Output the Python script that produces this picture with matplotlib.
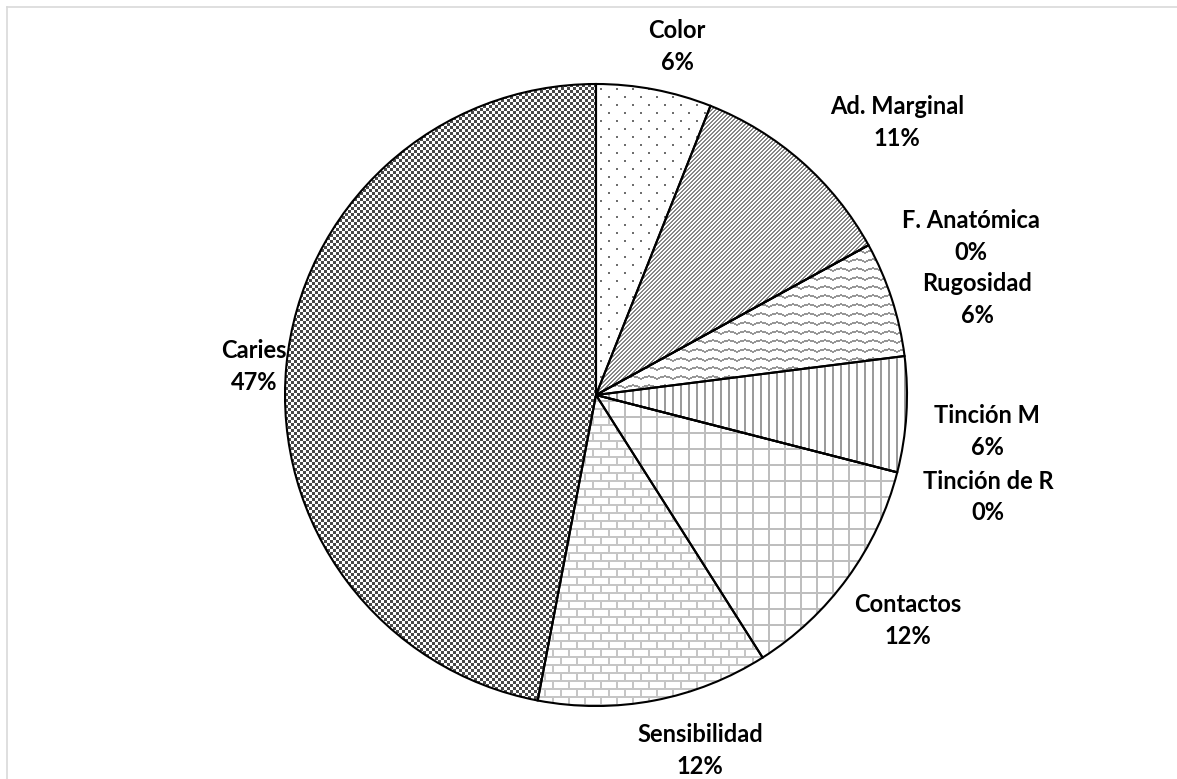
import numpy as np
import matplotlib
matplotlib.use("Agg")
import matplotlib.pyplot as plt
from matplotlib.lines import Line2D

# Distribution of failure causes (percent)
categories = ["Color", "Ad. Marginal", "F. Anatómica", "Rugosidad", "Tinción M",
              "Tinción de R", "Contactos", "Sensibilidad", "Caries"]
percentages = [6, 11, 0, 6, 6, 0, 12, 12, 47]

W, H = 1177, 779
CX, CY, R = 596, H - 395, 311

# Label anchor (x, y of first line, both in pixels from the top-left corner)
label_xy = {
    "Color": (677, 30),
    "Ad. Marginal": (897, 106),
    "F. Anatómica": (971, 220),
    "Rugosidad": (977, 283),
    "Tinción M": (987, 415),
    "Tinción de R": (988, 481),
    "Contactos": (908, 604),
    "Sensibilidad": (700, 735),
    "Caries": (254, 350),
}
LINE_GAP = 32

yy, xx = np.mgrid[0:H, 0:W]


def texture(mask, gray):
    img = np.ones((H, W, 3))
    img[mask] = gray / 255.0
    return img


def tri_wave(x, period, amp):
    p = (x % period) / period
    return np.round(amp * (1 - np.abs(2 * p - 1))).astype(int)


wave_off = tri_wave(xx // 2 * 2, 16, 3)

textures = {
    "Color": texture((yy % 8 < 2) & (((xx + (yy // 8 % 2) * 8) % 16) < 2), 110),
    "Ad. Marginal": texture(((xx + yy) % 4) < 2, 135),
    "F. Anatómica": texture(np.zeros((H, W), bool), 255),
    "Rugosidad": texture(((yy + wave_off) % 9) < 2, 150),
    "Tinción M": texture((xx % 8) < 2, 155),
    "Tinción de R": texture(np.zeros((H, W), bool), 255),
    "Contactos": texture((xx % 16 < 2) | (yy % 16 < 2), 190),
    "Sensibilidad": texture((yy % 8 < 2) |
                            (((xx + (yy // 8 % 2) * 8) % 16) < 2), 198),
    "Caries": texture(((xx // 3 + yy // 3) % 2) == 0, 72),
}

fig = plt.figure(figsize=(W / 100, H / 100), dpi=100)
ax = fig.add_axes([0, 0, 1, 1])
ax.patch.set_visible(False)

wedges, _ = ax.pie(percentages, startangle=90, counterclock=False,
                   center=(CX, CY), radius=R,
                   wedgeprops=dict(facecolor="none", edgecolor="black",
                                   linewidth=1.5))

ax.set_xlim(0, W)
ax.set_ylim(0, H)
ax.set_aspect("equal")
ax.set_axis_off()

# Pattern fills placed pixel-for-pixel and clipped to each wedge
for name, w in zip(categories, wedges):
    im = fig.figimage(textures[name], xo=0, yo=0, origin="upper", zorder=-1)
    im.set_clip_path(w)

for name, val in zip(categories, percentages):
    x, y = label_xy[name]
    for i, line in enumerate([name, f"{val}%"]):
        ax.text(x, H - (y + i * LINE_GAP), line, ha="center", va="center",
                fontsize=17, fontweight="bold", family="Lato",
                color="black", zorder=5)

# Chart-area frame (top and left edges)
fig.add_artist(Line2D([7 / W, 1], [1 - 7 / H, 1 - 7 / H], color="#d9d9d9",
                      linewidth=1.2, transform=fig.transFigure))
fig.add_artist(Line2D([7 / W, 7 / W], [0, 1 - 7 / H], color="#d9d9d9",
                      linewidth=1.2, transform=fig.transFigure))

fig.savefig("out.png", dpi=100, facecolor="white")
